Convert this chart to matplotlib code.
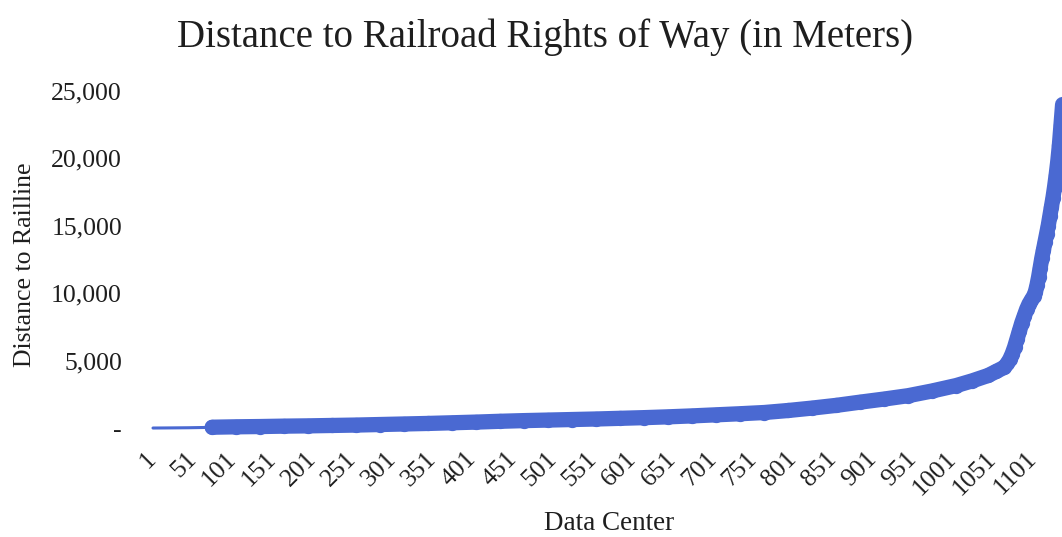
import matplotlib
matplotlib.use("Agg")
import matplotlib.pyplot as plt
import numpy as np

# Data: index of data center (sorted) and distance to railline (m)
idx = [1, 15, 25, 35, 45, 55, 65, 71,
       75, 105, 135, 165, 195, 225, 255, 285, 315, 345, 375, 405, 435, 465, 495,
       525, 555, 585, 615, 645, 675, 705, 735, 765, 795, 825, 855, 885, 915, 945,
       975, 1005, 1025, 1045, 1055, 1065, 1069, 1072, 1075, 1078, 1081, 1084,
       1087, 1090, 1093, 1096, 1099, 1102, 1104, 1106, 1108, 1110, 1112, 1114,
       1116, 1118, 1120, 1122, 1124, 1126, 1128, 1130, 1132, 1134, 1136, 1138]
dist = [0, 5, 10, 15, 20, 30, 40, 55,
        60, 90, 110, 140, 160, 190, 220, 260, 300, 340, 390, 440, 500, 550, 590,
        630, 670, 720, 770, 830, 900, 980, 1060, 1150, 1300, 1480, 1680, 1920, 2150, 2400,
        2750, 3150, 3500, 3900, 4200, 4500, 4800, 5100, 5500, 6000, 6600, 7200,
        7800, 8300, 8800, 9200, 9500, 9800, 10100, 10600, 11200, 11900, 12600, 13200,
        13800, 14400, 15000, 15700, 16400, 17100, 17900, 18800, 19800, 21000, 22500, 24000]
marker_start = 75

xtick_vals = list(range(1, 1102, 50))
ytick_vals = [0, 5000, 10000, 15000, 20000, 25000]
ytick_labels = ["-", "5,000", "10,000", "15,000", "20,000", "25,000"]

color = "#4A69D2"
text_color = "#1E1E1E"
font = "Liberation Serif"
plt.rcParams["font.family"] = [font, "DejaVu Serif"]

W, H = 1062, 537
fig = plt.figure(figsize=(W / 100, H / 100), dpi=100)
ax = fig.add_axes([140 / W, (H - 441.5) / H, 922 / W, (441.5 - 84.3) / H])

idx_a = np.array(idx)
dist_a = np.array(dist)
ax.plot(idx_a, dist_a, color=color, lw=2.2, solid_capstyle="round")
m = idx_a >= marker_start
ax.plot(idx_a[m], dist_a[m], color=color, lw=11, solid_capstyle="round",
        solid_joinstyle="round", marker="o", ms=11, mec="none", mfc=color)

ax.set_xlim(-15.25, 1137.25)
ax.set_ylim(-1000, 25500)
for s in ax.spines.values():
    s.set_visible(False)

ax.set_yticks(ytick_vals)
ax.set_yticklabels(ytick_labels, fontsize=18.5, color=text_color)
ax.set_xticks(xtick_vals)
ax.set_xticklabels([str(v) for v in xtick_vals], fontsize=18.5, color=text_color,
                   rotation=45, ha="right", va="center", rotation_mode="anchor")
ax.tick_params(axis="y", length=0, pad=13)
ax.tick_params(axis="x", length=0, pad=10)

fig.text(545 / W, 1 - 37 / H, "Distance to Railroad Rights of Way (in Meters)",
         ha="center", va="center", fontsize=28, color=text_color)
fig.text(25 / W, 1 - 265 / H, "Distance to Railline", rotation=90,
         ha="center", va="center", fontsize=18.5, color=text_color)
fig.text(609 / W, 1 - 524 / H, "Data Center", ha="center", va="center",
         fontsize=19.5, color=text_color)

fig.savefig("out.png", dpi=100)
